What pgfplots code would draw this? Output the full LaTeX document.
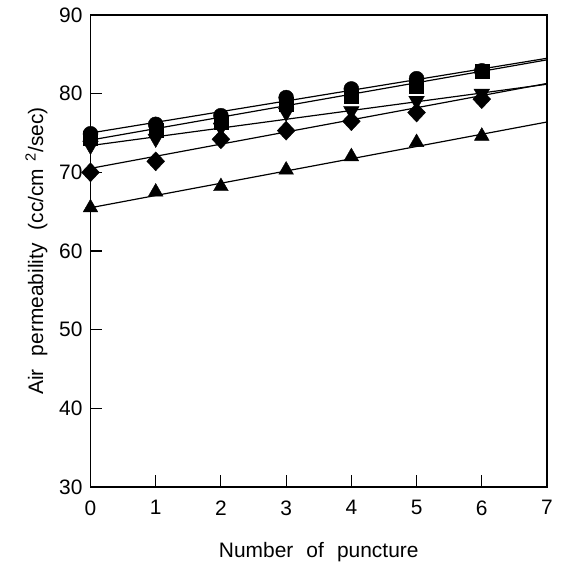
\documentclass[border=0pt]{standalone}
\usepackage{pgfplots}
\pgfplotsset{compat=1.18}
\usepackage{fontspec}
\setmainfont{Liberation Sans}
\begin{document}
\begin{tikzpicture}
\begin{axis}[
  scale only axis, width=456.5bp, height=472bp,
  xmin=0, xmax=7, ymin=30, ymax=90,
  xtick={0,...,7}, ytick={30,40,...,90},
  tick align=inside, major tick length=12bp,
  xtick pos=bottom, ytick pos=left,
  axis line style={line width=1.3pt},
  tick style={line width=1.1pt, black},
  ticklabel style={font=\fontsize{21}{25}\selectfont},
  yticklabel style={xshift=-4.5bp},
  xticklabel style={yshift=-10bp},
  /pgf/number format/assume math mode=true,
  xlabel={Number\hspace{0.35em} of\hspace{0.35em} puncture},
  ylabel={Air\hspace{0.35em} permeability\hspace{0.35em} (cc/cm\hspace{0.35em}\textsuperscript{2}/sec)},
  xlabel style={font=\fontsize{21}{25}\selectfont, at={(axis description cs:0.5,-0.1504)}, anchor=base},
  ylabel style={font=\fontsize{21}{25}\selectfont, at={(axis description cs:-0.104,0.5)}, anchor=base},
  clip=false,
]
% fitted lines
\addplot[black, line width=1.2pt] coordinates {(0,75.0) (7,84.5)};
\addplot[black, line width=1.2pt] coordinates {(0,74.1) (7,84.3)};
\addplot[black, line width=1.2pt] coordinates {(0,73.4) (7,81.2)};
\addplot[black, line width=1.2pt] coordinates {(0,70.5) (7,81.3)};
\addplot[black, line width=1.2pt] coordinates {(0,65.5) (7,76.4)};
% data
\addplot[only marks, mark=*, mark size=7.5bp, black] coordinates {
(0,74.9) (1,76.1) (2,77.2) (3,79.5) (4,80.6) (5,81.9) (6,82.9)};
\addplot[only marks, mark=square*, mark size=7bp, black] coordinates {
(0,74.3) (1,75.3) (2,76.4) (3,78.7) (4,79.7) (5,81.0) (6,82.8)};
\addplot[only marks, mark=triangle*, mark options={rotate=180}, mark size=9bp, black] coordinates {
(0,73.4) (1,74.3) (2,75.7) (3,77.6) (4,77.8) (5,79.1) (6,80.0)};
\addplot[only marks, mark=diamond*, mark size=9.5bp, mark options={xscale=1.25}, black] coordinates {
(0,70.0) (1,71.4) (2,74.2) (3,75.3) (4,76.5) (5,77.6) (6,79.3)};
\addplot[only marks, mark=triangle*, mark size=8.5bp, black] coordinates {
(0,65.5) (1,67.5) (2,68.2) (3,70.3) (4,72.0) (5,73.8) (6,74.6)};
\end{axis}
\pgfresetboundingbox
\path ([xshift=-90.5bp,yshift=-87bp]current axis.south west) rectangle ([xshift=16bp,yshift=15bp]current axis.north east);
\end{tikzpicture}
\end{document}
